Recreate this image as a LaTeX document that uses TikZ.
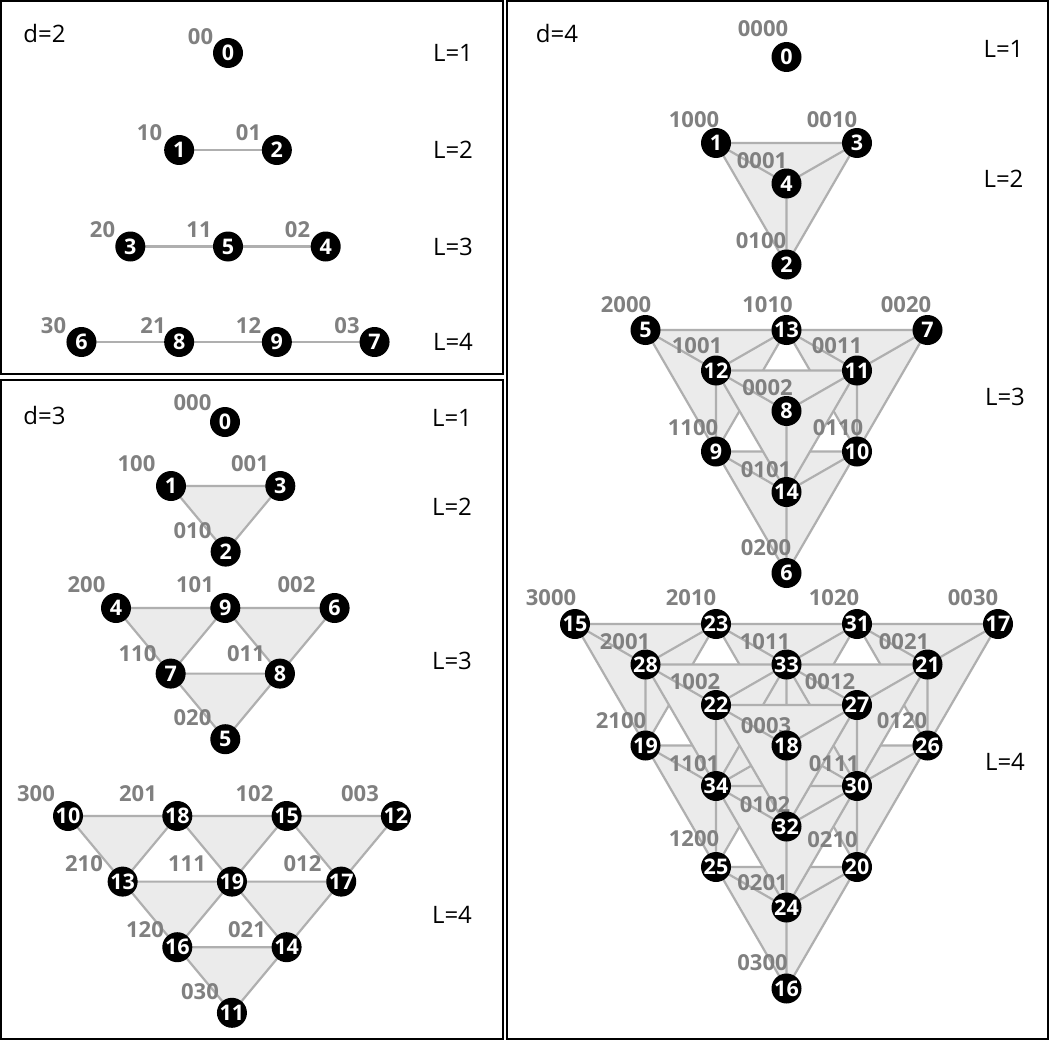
\documentclass[tikz,border=0pt]{standalone}
\usepackage{fontspec}
\setmainfont{Open Sans}
\definecolor{edgegray}{RGB}{175,175,175}
\definecolor{facegray}{RGB}{235,235,235}
\definecolor{labgray}{RGB}{128,128,128}
% 2D lattice points for d=3 panel
\newcommand\mkthree[4]{%
  \foreach \ib in {0,...,#4}{\foreach \ic in {0,...,#4}{%
    \pgfmathtruncatemacro\mysum{\ib+\ic}%
    \ifnum\mysum>#4\relax\else
      \coordinate (#1-\ib-\ic) at ({#2+109.3*(\ic+\ib/2)},{#3+65.6*\ib});
    \fi}}}
\newcommand\mktri[3]{%
  \pgfmathtruncatemacro\myB{#2+1}\pgfmathtruncatemacro\myC{#3+1}%
  \path[face] (#1-#2-#3) -- (#1-\myB-#3) -- (#1-#2-\myC) -- cycle;}
% 3D lattice points (projected) for d=4 panel
\newcommand\mkfour[4]{%
  \foreach \ib in {0,...,#4}{\foreach \ic in {0,...,#4}{\foreach \ie in {0,...,#4}{%
    \pgfmathtruncatemacro\mysum{\ib+\ic+\ie}%
    \ifnum\mysum>#4\relax\else
      \coordinate (#1-\ib-\ic-\ie) at ({#2+141*(\ic+(\ib+\ie)/2)},{#3+121.5*(\ib+\ie/3)});
    \fi}}}}
\newcommand\tetra[4]{%
  \pgfmathtruncatemacro\myB{#2+1}\pgfmathtruncatemacro\myC{#3+1}\pgfmathtruncatemacro\myE{#4+1}%
  \path[face] (#1-#2-#3-#4) -- (#1-\myB-#3-#4) -- (#1-#2-\myC-#4) -- cycle;
  \draw[edge] (#1-#2-#3-\myE) -- (#1-#2-#3-#4)
              (#1-#2-#3-\myE) -- (#1-\myB-#3-#4)
              (#1-#2-#3-\myE) -- (#1-#2-\myC-#4);}
\begin{document}
\begin{tikzpicture}[x=1pt,y=-1pt,
  edge/.style={draw=edgegray, line width=2.2pt, line cap=round},
  face/.style={fill=facegray, draw=edgegray, line width=2.2pt, line join=round},
  vert/.style={circle, fill=black, minimum size=30pt, inner sep=0pt, text=white,
    font=\fontsize{21.5}{21.5}\selectfont\bfseries},
  lab/.style={text=labgray, inner sep=0pt, font=\fontsize{22}{22}\selectfont\bfseries},
  lev/.style={inner sep=0pt, font=\fontsize{24}{24}\selectfont},
  frame/.style={draw=black, line width=2pt}]
\useasboundingbox (0,0) rectangle (1050,1041);
\fill[white] (0,0) rectangle (1050,1041);
% frames
\draw[frame] (1.2,1.2) rectangle (503.3,374.3);
\draw[frame] (1.2,380.3) rectangle (503.3,1039);
\draw[frame] (507,1.2) rectangle (1047.7,1039);

% ================= d = 2 =================
\node[lev] (hd2) at (44.5,34) {d=2};
\node[lev] (d2L1) at (453,53) {L=1};
\node[lev] (d2L2) at (453,150) {L=2};
\node[lev] (d2L3) at (453,247) {L=3};
\node[lev] (d2L4) at (453,342) {L=4};
\coordinate (A1-0) at (228,53);
\coordinate (A2-1) at (179.15,150); \coordinate (A2-2) at (276.85,150);
\coordinate (A3-3) at (130.3,246.5); \coordinate (A3-5) at (228,246.5); \coordinate (A3-4) at (325.7,246.5);
\coordinate (A4-6) at (81.45,342); \coordinate (A4-8) at (179.15,342);
\coordinate (A4-9) at (276.85,342); \coordinate (A4-7) at (374.55,342);
\draw[edge] (A2-1) -- (A2-2);
\draw[edge] (A3-3) -- (A3-5) -- (A3-4);
\draw[edge] (A4-6) -- (A4-8) -- (A4-9) -- (A4-7);
\node[lab] (ta00) at (200.5,36.5) {00};
\node[lab] (ta10) at (149.5,132.5) {10};
\node[lab] (ta01) at (248.5,132.5) {01};
\node[lab] (ta20) at (102.5,229.5) {20};
\node[lab] (ta11) at (199,229.5) {11};
\node[lab] (ta02) at (297.5,229.5) {02};
\node[lab] (ta30) at (53.5,325.5) {30};
\node[lab] (ta21) at (153,325.5) {21};
\node[lab] (ta12) at (248.5,325.5) {12};
\node[lab] (ta03) at (347,325.5) {03};
\node[vert] (a0) at (A1-0) {0};
\node[vert] (a1) at (A2-1) {1};
\node[vert] (a2) at (A2-2) {2};
\node[vert] (a3) at (A3-3) {3};
\node[vert] (a5) at (A3-5) {5};
\node[vert] (a4) at (A3-4) {4};
\node[vert] (a6) at (A4-6) {6};
\node[vert] (a8) at (A4-8) {8};
\node[vert] (a9) at (A4-9) {9};
\node[vert] (a7) at (A4-7) {7};

% ================= d = 3 =================
\node[lev] (hd3) at (44.5,415) {d=3};
\node[lev] (d3L1) at (452,418) {L=1};
\node[lev] (d3L2) at (452,507) {L=2};
\node[lev] (d3L3) at (452,661) {L=3};
\node[lev] (d3L4) at (452,915) {L=4};
\coordinate (T1-0-0) at (225,422);
\mkthree{T2}{171}{486}{1}
\mkthree{T3}{116}{608}{2}
\mkthree{T4}{68}{816}{3}
\mktri{T2}{0}{0}
\mktri{T3}{0}{0}\mktri{T3}{1}{0}\mktri{T3}{0}{1}
\mktri{T4}{0}{0}\mktri{T4}{1}{0}\mktri{T4}{0}{1}
\mktri{T4}{2}{0}\mktri{T4}{1}{1}\mktri{T4}{0}{2}
\node[lab] (tb000) at (192.5,402.5) {000};
\node[lab] (tb100) at (136.5,464) {100};
\node[lab] (tb001) at (250,464) {001};
\node[lab] (tb010) at (192.5,530.5) {010};
\node[lab] (tb200) at (86.5,584.5) {200};
\node[lab] (tb101) at (195,584.5) {101};
\node[lab] (tb002) at (296.5,584.5) {002};
\node[lab] (tb110) at (137.5,654) {110};
\node[lab] (tb011) at (246,654) {011};
\node[lab] (tb020) at (192.5,717.5) {020};
\node[lab] (tb300) at (36,794) {300};
\node[lab] (tb201) at (138,794) {201};
\node[lab] (tb102) at (254.5,794) {102};
\node[lab] (tb003) at (360,794) {003};
\node[lab] (tb210) at (84,864) {210};
\node[lab] (tb111) at (187,864) {111};
\node[lab] (tb012) at (302.5,864) {012};
\node[lab] (tb120) at (145,930) {120};
\node[lab] (tb021) at (247,930) {021};
\node[lab] (tb030) at (200,991.5) {030};
\node[vert] (b0) at (T1-0-0) {0};
\node[vert] (b1) at (T2-0-0) {1};
\node[vert] (b2) at (T2-1-0) {2};
\node[vert] (b3) at (T2-0-1) {3};
\node[vert] (b4) at (T3-0-0) {4};
\node[vert] (b9) at (T3-0-1) {9};
\node[vert] (b6) at (T3-0-2) {6};
\node[vert] (b7) at (T3-1-0) {7};
\node[vert] (b8) at (T3-1-1) {8};
\node[vert] (b5) at (T3-2-0) {5};
\node[vert] (b10) at (T4-0-0) {10};
\node[vert] (b18) at (T4-0-1) {18};
\node[vert] (b15) at (T4-0-2) {15};
\node[vert] (b12) at (T4-0-3) {12};
\node[vert] (b13) at (T4-1-0) {13};
\node[vert] (b19) at (T4-1-1) {19};
\node[vert] (b17) at (T4-1-2) {17};
\node[vert] (b16) at (T4-2-0) {16};
\node[vert] (b14) at (T4-2-1) {14};
\node[vert] (b11) at (T4-3-0) {11};

% ================= d = 4 =================
\node[lev] (hd4) at (557,33.5) {d=4};
\node[lev] (d4L1) at (1003.5,49) {L=1};
\node[lev] (d4L2) at (1003.5,179) {L=2};
\node[lev] (d4L3) at (1005,397) {L=3};
\node[lev] (d4L4) at (1005,762) {L=4};
\coordinate (Q1-0-0-0) at (786.5,57);
\mkfour{Q2}{716}{143}{1}
\mkfour{Q3}{645.5}{330}{2}
\mkfour{Q4}{575}{624}{3}
% L=2
\tetra{Q2}{0}{0}{0}
% L=3 : back layer first, then front
\tetra{Q3}{0}{0}{0}\tetra{Q3}{1}{0}{0}\tetra{Q3}{0}{1}{0}
\tetra{Q3}{0}{0}{1}
% L=4
\tetra{Q4}{0}{0}{0}\tetra{Q4}{1}{0}{0}\tetra{Q4}{0}{1}{0}
\tetra{Q4}{2}{0}{0}\tetra{Q4}{1}{1}{0}\tetra{Q4}{0}{2}{0}
\tetra{Q4}{0}{0}{1}\tetra{Q4}{1}{0}{1}\tetra{Q4}{0}{1}{1}
\tetra{Q4}{0}{0}{2}
% labels
\node[lab] (tc0000) at (763,29) {0000};
\node[lab] (tc1000) at (694,119.5) {1000};
\node[lab] (tc0010) at (832,119.5) {0010};
\node[lab] (tc0001) at (762,160.5) {0001};
\node[lab] (tc0100) at (761,241) {0100};
\node[lab] (tc2000) at (626,305) {2000};
\node[lab] (tc1010) at (767.5,305) {1010};
\node[lab] (tc0020) at (906,305) {0020};
\node[lab] (tc1001) at (697,346) {1001};
\node[lab] (tc0011) at (837,346) {0011};
\node[lab] (tc0002) at (767.5,387.5) {0002};
\node[lab] (tc1100) at (693,427.5) {1100};
\node[lab] (tc0110) at (838,427.5) {0110};
\node[lab] (tc0101) at (766,469.5) {0101};
\node[lab] (tc0200) at (766,547.5) {0200};
\node[lab] (tc3000) at (551,598) {3000};
\node[lab] (tc2010) at (691,598) {2010};
\node[lab] (tc1020) at (834,598) {1020};
\node[lab] (tc0030) at (973,598) {0030};
\node[lab] (tc2001) at (625,641.5) {2001};
\node[lab] (tc1011) at (765,641.5) {1011};
\node[lab] (tc0021) at (904,641.5) {0021};
\node[lab] (tc1002) at (695,682) {1002};
\node[lab] (tc0012) at (830,682) {0012};
\node[lab] (tc2100) at (621,720.7) {2100};
\node[lab] (tc0003) at (766,725.7) {0003};
\node[lab] (tc0120) at (902,720.7) {0120};
\node[lab] (tc1101) at (694,763.3) {1101};
\node[lab] (tc0111) at (834,763.3) {0111};
\node[lab] (tc0102) at (765,804.8) {0102};
\node[lab] (tc1200) at (694,839) {1200};
\node[lab] (tc0210) at (832.5,840) {0210};
\node[lab] (tc0201) at (762.5,882.5) {0201};
\node[lab] (tc0300) at (762.5,962.5) {0300};
% vertices
\node[vert] (c0) at (Q1-0-0-0) {0};
\node[vert] (c1) at (Q2-0-0-0) {1};
\node[vert] (c2) at (Q2-1-0-0) {2};
\node[vert] (c3) at (Q2-0-1-0) {3};
\node[vert] (c4) at (Q2-0-0-1) {4};
\node[vert] (c5) at (Q3-0-0-0) {5};
\node[vert] (c6) at (Q3-2-0-0) {6};
\node[vert] (c7) at (Q3-0-2-0) {7};
\node[vert] (c8) at (Q3-0-0-2) {8};
\node[vert] (c9) at (Q3-1-0-0) {9};
\node[vert] (c10) at (Q3-1-1-0) {10};
\node[vert] (c11) at (Q3-0-1-1) {11};
\node[vert] (c12) at (Q3-0-0-1) {12};
\node[vert] (c13) at (Q3-0-1-0) {13};
\node[vert] (c14) at (Q3-1-0-1) {14};
\node[vert] (c15) at (Q4-0-0-0) {15};
\node[vert] (c16) at (Q4-3-0-0) {16};
\node[vert] (c17) at (Q4-0-3-0) {17};
\node[vert] (c18) at (Q4-0-0-3) {18};
\node[vert] (c19) at (Q4-1-0-0) {19};
\node[vert] (c20) at (Q4-2-1-0) {20};
\node[vert] (c21) at (Q4-0-2-1) {21};
\node[vert] (c22) at (Q4-0-0-2) {22};
\node[vert] (c23) at (Q4-0-1-0) {23};
\node[vert] (c24) at (Q4-2-0-1) {24};
\node[vert] (c25) at (Q4-2-0-0) {25};
\node[vert] (c26) at (Q4-1-2-0) {26};
\node[vert] (c27) at (Q4-0-1-2) {27};
\node[vert] (c28) at (Q4-0-0-1) {28};
\node[vert] (c30) at (Q4-1-1-1) {30};
\node[vert] (c31) at (Q4-0-2-0) {31};
\node[vert] (c32) at (Q4-1-0-2) {32};
\node[vert] (c33) at (Q4-0-1-1) {33};
\node[vert] (c34) at (Q4-1-0-1) {34};
\end{tikzpicture}
\end{document}
